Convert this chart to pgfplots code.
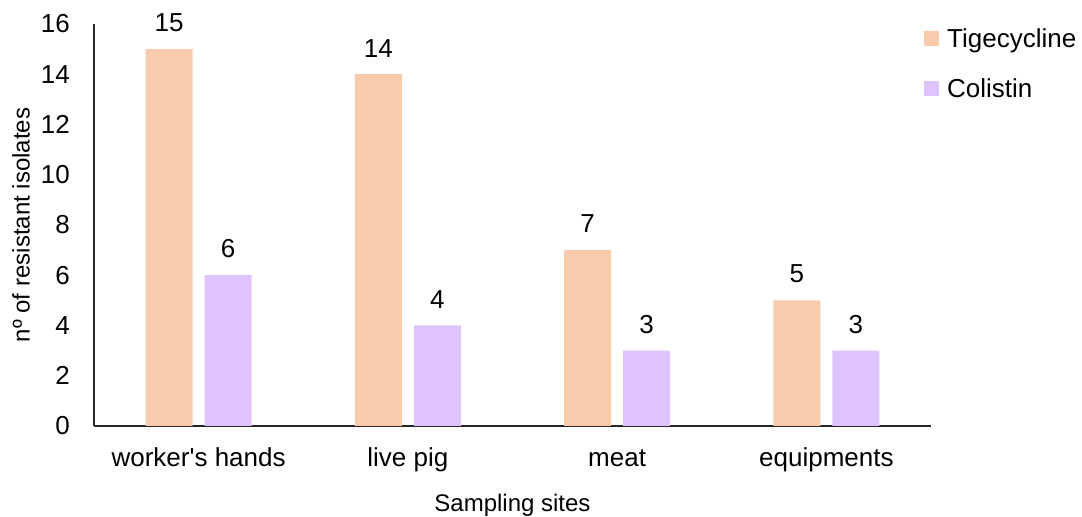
\documentclass[border=0pt]{standalone}
\usepackage{pgfplots}
\pgfplotsset{compat=1.18}
\usepackage{fontspec}
\setmainfont{Liberation Sans}
\definecolor{tig}{HTML}{F8CBAD}
\definecolor{col}{HTML}{DFC3FC}
\begin{document}
\begin{tikzpicture}[x=1bp,y=1bp]
\path[use as bounding box] (0,0) rectangle (1082,517);
\begin{axis}[
  at={(94bp,91bp)}, anchor=south west,
  scale only axis, width=837bp, height=402bp,
  xmin=-0.5, xmax=3.5, ymin=0, ymax=16,
  ytick={0,2,...,16},
  xtick=data,
  xticklabels={worker\textquotesingle s hands, live pig, meat, equipments},
  axis x line*=bottom, axis y line*=left,
  axis line style={line width=1.2bp, black!85, -},
  major tick length=0pt,
  /pgf/number format/assume math mode=true,
  ticklabel style={font=\fontsize{26bp}{30bp}\selectfont, inner sep=0pt},
  xticklabel style={yshift=-21bp, text height=19bp},
  yticklabel style={xshift=-24bp},
  xlabel={Sampling sites},
  ylabel={nº of resistant isolates},
  label style={font=\fontsize{24bp}{28bp}\selectfont},
  xlabel style={at={(axis description cs:0.5,0)}, anchor=center, yshift=-79bp},
  ylabel style={at={(axis description cs:0,0.5)}, anchor=center, yshift=73bp},
  ybar=12bp, bar width=47bp,
  nodes near coords,
  every node near coord/.append style={font=\fontsize{26bp}{30bp}\selectfont, inner sep=0pt, yshift=17bp, black},
  legend style={at={(axis description cs:0.9916,0.995)}, anchor=north west, draw=none, fill=none,
    font=\fontsize{26bp}{30bp}\selectfont, row sep=26bp, inner sep=0pt,
    /tikz/every odd column/.append style={column sep=6bp}},
  legend cell align=left,
  legend image code/.code={\fill[#1] (0bp,-7.5bp) rectangle (15bp,7.5bp);},
]
\addplot[draw=none, fill=tig] coordinates {(0,15) (1,14) (2,7) (3,5)};
\addplot[draw=none, fill=col] coordinates {(0,6) (1,4) (2,3) (3,3)};
\legend{Tigecycline, Colistin}
\end{axis}
\end{tikzpicture}
\end{document}
